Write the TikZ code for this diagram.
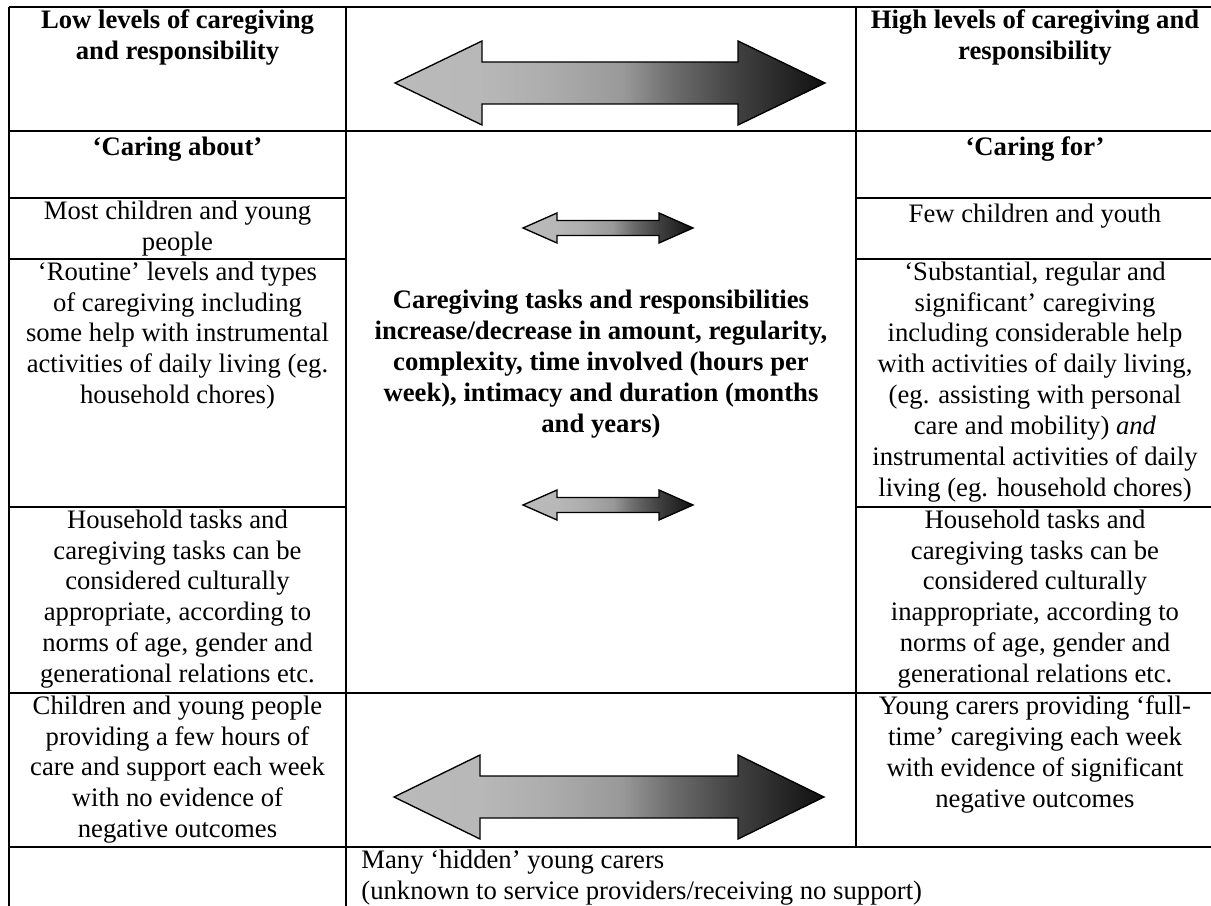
\documentclass[tikz,border=0pt]{standalone}
\usepackage{fontspec}
\setmainfont{Liberation Serif}

\newcommand{\cellfont}{\fontsize{12}{13.9}\selectfont}
\pgfdeclarehorizontalshading{arrowfade}{100bp}{color(0bp)=(black!27); color(25bp)=(black!27); color(35bp)=(black!28); color(42.5bp)=(black!32); color(51.5bp)=(black!40); color(57.5bp)=(black!58); color(65bp)=(black!75); color(73bp)=(black!90); color(75bp)=(black!93); color(100bp)=(black!93)}
\tikzset{rule/.style={line width=0.9pt},
  cell/.style={anchor=north, align=center, inner xsep=0pt, inner ysep=1pt, font=\cellfont, execute at begin node=\strut},
  headcell/.style={cell, font=\cellfont\bfseries},
  midtext/.style={align=center, inner sep=0pt, font=\cellfont\bfseries},
  fadebody/.style={shading=arrowfade, draw=black, line width=0.6pt}}
% centre x, centre y, half length, head length, head half height, shaft half height
\newcommand{\fadearrow}[6]{%
  \shadedraw[fadebody] (#1-#3,#2) -- (#1-#3+#4,#2-#5) -- (#1-#3+#4,#2-#6) -- (#1+#3-#4,#2-#6)
    -- (#1+#3-#4,#2-#5) -- (#1+#3,#2) -- (#1+#3-#4,#2+#5) -- (#1+#3-#4,#2+#6)
    -- (#1-#3+#4,#2+#6) -- (#1-#3+#4,#2+#5) -- cycle;}

\begin{document}
\begin{tikzpicture}[x=0.45pt, y=-0.45pt]
    \useasboundingbox (0,0) rectangle (1211,906);
    \draw[rule] (9,7) -- (1214,7) (9,131) -- (1214,131);
    \foreach \y in {198,259,507}
        \draw[rule] (9,\y) -- (346,\y) (856,\y) -- (1214,\y);
    \draw[rule] (9,693) -- (1214,693) (9,847) -- (1214,847);
    \draw[rule] (9,7) -- (9,930) (346,7) -- (346,930) (856,7) -- (856,847) (1214,7) -- (1214,930);

    \node[headcell] (lowhead) at (177.5,7) {Low levels of caregiving\\and responsibility};
    \node[headcell] (highhead) at (1035,7) {High levels of caregiving and\\responsibility};
    \node[headcell] (caringabout) at (177.5,131) {`Caring about'};
    \node[headcell] (caringfor) at (1035,131) {`Caring for'};
    \node[cell] (mostkids) at (177.5,198) {Most children and young\\people};
    \node[cell] (fewkids) at (1035,198) {Few children and youth};
    \node[cell] (routine) at (177.5,259) {`Routine' levels and types\\of caregiving including\\some help with instrumental\\activities of daily living (eg.\\household chores)};
    \node[cell] (substantial) at (1035,259) {`Substantial, regular and\\significant' caregiving\\including considerable help\\with activities of daily living,\\(eg. assisting with personal\\care and mobility) \textit{and}\\instrumental activities of daily\\living (eg. household chores)};
    \node[cell] (apt) at (177.5,507) {Household tasks and\\caregiving tasks can be\\considered culturally\\appropriate, according to\\norms of age, gender and\\generational relations etc.};
    \node[cell] (inapt) at (1035,507) {Household tasks and\\caregiving tasks can be\\considered culturally\\inappropriate, according to\\norms of age, gender and\\generational relations etc.};
    \node[cell] (fewhours) at (177.5,693) {Children and young people\\providing a few hours of\\care and support each week\\with no evidence of\\negative outcomes};
    \node[cell] (fulltime) at (1035,693) {Young carers providing `full-\\time' caregiving each week\\with evidence of significant\\negative outcomes};
    \node[midtext] (tasks) at (601,364) {Caregiving tasks and responsibilities\\increase/decrease in amount, regularity,\\complexity, time involved (hours per\\week), intimacy and duration (months\\and years)};
    \node[cell, anchor=north west, align=left] (hidden) at (361,847) {Many `hidden' young carers\\(unknown to service providers/receiving no support)};

    \fadearrow{610}{83}{215}{87}{42}{21}
    \fadearrow{608}{228}{85}{34}{15}{7.5}
    \fadearrow{608}{505}{85}{34}{15}{7.5}
    \fadearrow{609}{797}{215}{86}{42}{21}
\end{tikzpicture}
\end{document}
